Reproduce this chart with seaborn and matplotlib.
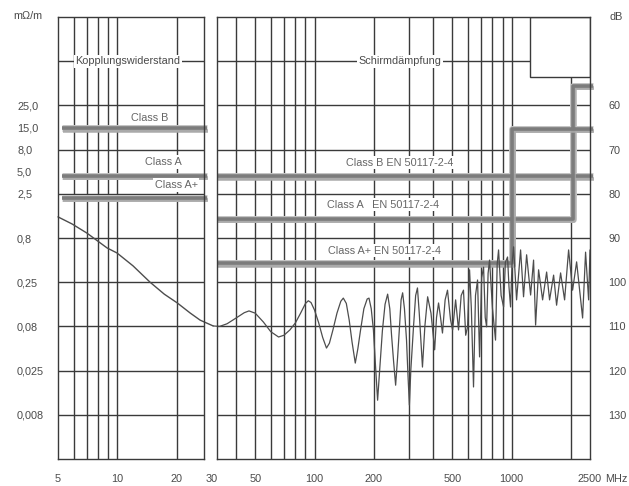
import matplotlib
matplotlib.use("Agg")
import matplotlib.pyplot as plt
import matplotlib.patheffects as pe
from matplotlib.patches import Rectangle
from matplotlib.ticker import NullLocator
from matplotlib.transforms import blended_transform_factory
import seaborn as sns

sns.set_style("white")
plt.rcParams['font.family'] = ['Liberation Sans', 'DejaVu Sans']

# Kopplungswiderstand (mOhm/m) über Frequenz (MHz)
kw_freq = [5.0, 5.89, 7.0, 8.87, 9.96, 12.0, 14.65, 17.3, 20.1, 23.4, 26.3, 30.6]
kw_value = [1.37, 1.14, 0.90, 0.61, 0.535, 0.383, 0.25, 0.183, 0.146, 0.112, 0.093, 0.080]

# Schirmdämpfung (dB) über Frequenz (MHz)
sd_freq = [30.6, 33, 36, 40, 44, 46.5, 50, 55, 60, 65.7,
           70, 75, 80, 85, 90, 93, 96, 100, 105, 110,
           115, 119, 124, 130, 136, 140, 145, 150, 155, 161,
           166, 171, 178, 185, 189, 194, 199, 204, 209, 214,
           221, 228, 235, 241, 246, 252, 258, 264, 270, 275,
           280, 286, 293, 298, 303, 308, 318, 326, 333, 340,
           353, 363, 375, 390, 407, 416, 426, 436, 446, 460,
           473, 490, 502, 520, 538, 555, 570, 585, 598, 612,
           625, 641, 656, 672, 688, 705, 721, 735, 747, 760,
           773, 800, 829, 845, 859, 885, 911, 930, 954, 970,
           988, 1005, 1024, 1060, 1111, 1150, 1192, 1249, 1293, 1324,
           1371, 1437, 1506, 1559, 1634, 1692, 1773, 1858, 1947, 2040,
           2138, 2293, 2374, 2460, 2500]
sd_value = [109.9, 110.0, 109.4, 108.1, 106.9, 106.5, 107.0, 109.0, 111.2, 112.4,
            112.0, 110.8, 109.2, 107.0, 104.8, 104.2, 104.6, 106.3, 109.2, 112.5,
            114.9, 113.8, 110.8, 107.0, 104.3, 103.6, 104.8, 108.6, 113.5, 118.3,
            115.0, 111.0, 106.0, 103.8, 103.6, 106.0, 110.8, 119.0, 126.7, 120.0,
            111.0, 105.0, 102.7, 106.0, 112.0, 118.0, 123.3, 117.0, 110.0, 104.0,
            102.4, 106.0, 113.1, 121.0, 127.8, 120.0, 110.0, 103.0, 101.3, 107.0,
            119.2, 110.0, 103.3, 107.0, 115.3, 108.0, 104.7, 108.0, 111.5, 104.0,
            101.8, 108.5, 110.8, 104.0, 110.8, 103.0, 101.8, 112.0, 110.1, 97.2,
            106.0, 123.7, 103.0, 99.5, 116.9, 99.0, 96.6, 108.0, 110.1, 98.0,
            95.0, 106.0, 113.1, 96.0, 92.7, 103.0, 105.6, 95.5, 94.3, 101.0,
            105.6, 96.0, 92.0, 104.0, 92.7, 103.3, 93.8, 102.9, 95.0, 109.7,
            97.2, 104.0, 97.7, 104.0, 98.4, 105.2, 97.9, 104.0, 92.7, 101.8,
            95.4, 108.1, 93.2, 104.0, 92.7]

# Grenzwerte Kopplungswiderstand (mOhm/m)
kw_class_values = [13.8, 4.0, 2.25]
kw_class_range = [5.25, 28.5]

# Grenzwerte Schirmdämpfung EN 50117-2-4 (Stufen)
sd_classB_freq = [32, 2590]
sd_classB_db = [76.0, 76.0]
sd_classA_freq = [32, 2040, 2040, 2590]
sd_classA_db = [85.7, 85.7, 55.6, 55.6]
sd_classAp_freq = [32, 1010, 1010, 2590]
sd_classAp_db = [95.7, 95.7, 65.3, 65.3]

# Achsen
db_grid = [50, 60, 70, 80, 90, 100, 110, 120, 130]
db_ticks = [60, 70, 80, 90, 100, 110, 120, 130]
kw_tick_db = [60, 65, 70, 75, 80, 90, 100, 110, 120, 130]
kw_tick_labels = ['25,0', '15,0', '8,0', '5,0', '2,5', '0,8', '0,25', '0,08', '0,025', '0,008']
left_vgrid = [6, 7, 8, 9, 10, 20]
right_vgrid = [40, 50, 60, 70, 80, 90, 100, 200, 300, 400, 500, 600, 700, 800, 900, 1000, 2000]
left_xticks = [5, 10, 20]
right_xticks = [50, 100, 200, 500, 1000, 2500]


def db_to_kw(d):
    # gleiche Höhe im Diagramm: 25 mOhm/m entspricht 60 dB
    return 25 * 10 ** ((60 - d) / 20)


grid_c = '#3a3a3a'
text_c = '#4a4a4a'
label_c = '#666666'
curve_c = '#4d4d4d'
fs = 7.8

fig = plt.figure(figsize=(6.29, 4.86), dpi=100)
ax_l = fig.add_axes([58 / 629, 27 / 486, 146 / 629, 442 / 486])
ax_r = fig.add_axes([217 / 629, 27 / 486, 373 / 629, 442 / 486])

# linkes Feld: Kopplungswiderstand
ax_l.set_xscale('log')
ax_l.set_yscale('log')
ax_l.set_xlim(5, 27.5)
ax_l.set_ylim(db_to_kw(140), db_to_kw(40))
for f in left_vgrid:
    ax_l.axvline(f, color=grid_c, lw=1.0, zorder=1)
for d in db_grid:
    ax_l.axhline(db_to_kw(d), color=grid_c, lw=1.0, zorder=1)

# rechtes Feld: Schirmdämpfung
ax_r.set_xscale('log')
ax_r.set_xlim(32, 2500)
ax_r.set_ylim(140, 40)
for f in right_vgrid:
    ax_r.axvline(f, color=grid_c, lw=1.0, zorder=1)
for d in db_grid:
    ax_r.axhline(d, color=grid_c, lw=1.0, zorder=1)

# Kasten oben rechts
ax_r.add_patch(Rectangle((1234, 40), 2500 - 1234, 13.6, facecolor='white',
                         edgecolor=grid_c, lw=1.0, zorder=2))

band_fx = [pe.SimpleLineShadow(offset=(0.8, -1.8), shadow_color='#a8a8a8', alpha=0.9),
           pe.Normal()]


def band(ax, xs, ys):
    ax.plot(xs, ys, color='#c4c4c4', lw=5.0, solid_capstyle='butt', zorder=3, clip_on=False)
    ax.plot(xs, ys, color='#7c7c7c', lw=2.6, solid_capstyle='butt', zorder=4,
            clip_on=False, path_effects=band_fx)


for v in kw_class_values:
    band(ax_l, kw_class_range, [v, v])
band(ax_r, sd_classB_freq, sd_classB_db)
band(ax_r, sd_classA_freq, sd_classA_db)
band(ax_r, sd_classAp_freq, sd_classAp_db)

# Messkurven
sns.lineplot(x=kw_freq, y=kw_value, ax=ax_l, color=curve_c, lw=1.0,
             sort=False, estimator=None, clip_on=False, zorder=5)
sns.lineplot(x=sd_freq, y=sd_value, ax=ax_r, color=curve_c, lw=0.9,
             sort=False, estimator=None, clip_on=False, zorder=5)

# Texte
box = dict(facecolor='white', edgecolor='none', pad=1.2)
tl = blended_transform_factory(ax_l.transAxes, ax_l.transData)
tr = blended_transform_factory(ax_r.transAxes, ax_r.transData)
ax_l.text(0.48, db_to_kw(50), 'Kopplungswiderstand', transform=tl, ha='center', va='center',
          fontsize=fs, color=text_c, bbox=box, zorder=6)
ax_l.text(0.63, db_to_kw(62.9), 'Class B', transform=tl, ha='center', va='center',
          fontsize=fs, color=label_c, bbox=box, zorder=6)
ax_l.text(0.72, db_to_kw(72.8), 'Class A', transform=tl, ha='center', va='center',
          fontsize=fs, color=label_c, bbox=box, zorder=6)
ax_l.text(0.81, db_to_kw(78.0), 'Class A+', transform=tl, ha='center', va='center',
          fontsize=fs, color=label_c, bbox=box, zorder=6)

ax_r.text(0.49, 50, 'Schirmdämpfung', transform=tr, ha='center', va='center',
          fontsize=fs, color=text_c, bbox=box, zorder=6)
ax_r.text(0.49, 73.0, 'Class B EN 50117-2-4', transform=tr, ha='center', va='center',
          fontsize=fs, color=label_c, bbox=box, zorder=6)
ax_r.text(0.445, 82.5, 'Class A   EN 50117-2-4', transform=tr, ha='center', va='center',
          fontsize=fs, color=label_c, bbox=box, zorder=6)
ax_r.text(0.45, 92.9, 'Class A+ EN 50117-2-4', transform=tr, ha='center', va='center',
          fontsize=fs, color=label_c, bbox=box, zorder=6)

# Achsbeschriftung
xpad = 11
ax_l.set_xticks(left_xticks)
ax_l.set_xticklabels([str(t) for t in left_xticks])
ax_r.set_xticks(right_xticks)
ax_r.set_xticklabels([str(t) for t in right_xticks])
ax_l.set_yticks([db_to_kw(d) for d in kw_tick_db])
ax_l.set_yticklabels(kw_tick_labels)
ax_r.set_yticks(db_ticks)
ax_r.set_yticklabels([str(t) for t in db_ticks])
ax_r.yaxis.tick_right()
for ax in (ax_l, ax_r):
    ax.xaxis.set_minor_locator(NullLocator())
    ax.yaxis.set_minor_locator(NullLocator())
    ax.tick_params(axis='x', length=0, pad=xpad, labelsize=fs, labelcolor=text_c)
    for s in ax.spines.values():
        s.set_visible(True)
        s.set_color(grid_c)
        s.set_linewidth(1.0)
        s.set_zorder(7)
ax_l.tick_params(axis='y', length=0, pad=29.5, labelsize=fs, labelcolor=text_c)
for lab in ax_l.get_yticklabels():
    lab.set_horizontalalignment('left')
ax_r.tick_params(axis='y', length=0, pad=13, labelsize=fs, labelcolor=text_c)

ax_l.annotate('30', xy=(30, 0), xycoords=('data', 'axes fraction'), xytext=(0, -xpad),
              textcoords='offset points', ha='center', va='top', fontsize=fs,
              color=text_c, annotation_clip=False)
ax_r.annotate('MHz', xy=(1, 0), xycoords='axes fraction', xytext=(11, -xpad),
              textcoords='offset points', ha='left', va='top', fontsize=fs,
              color=text_c, annotation_clip=False)
fig.text(13 / 629, 1 - 16 / 486, 'mΩ/m', ha='left', va='center', fontsize=fs, color=text_c)
fig.text(609 / 629, 1 - 17 / 486, 'dB', ha='left', va='center', fontsize=fs, color=text_c)

fig.savefig('out.png', dpi=100)
